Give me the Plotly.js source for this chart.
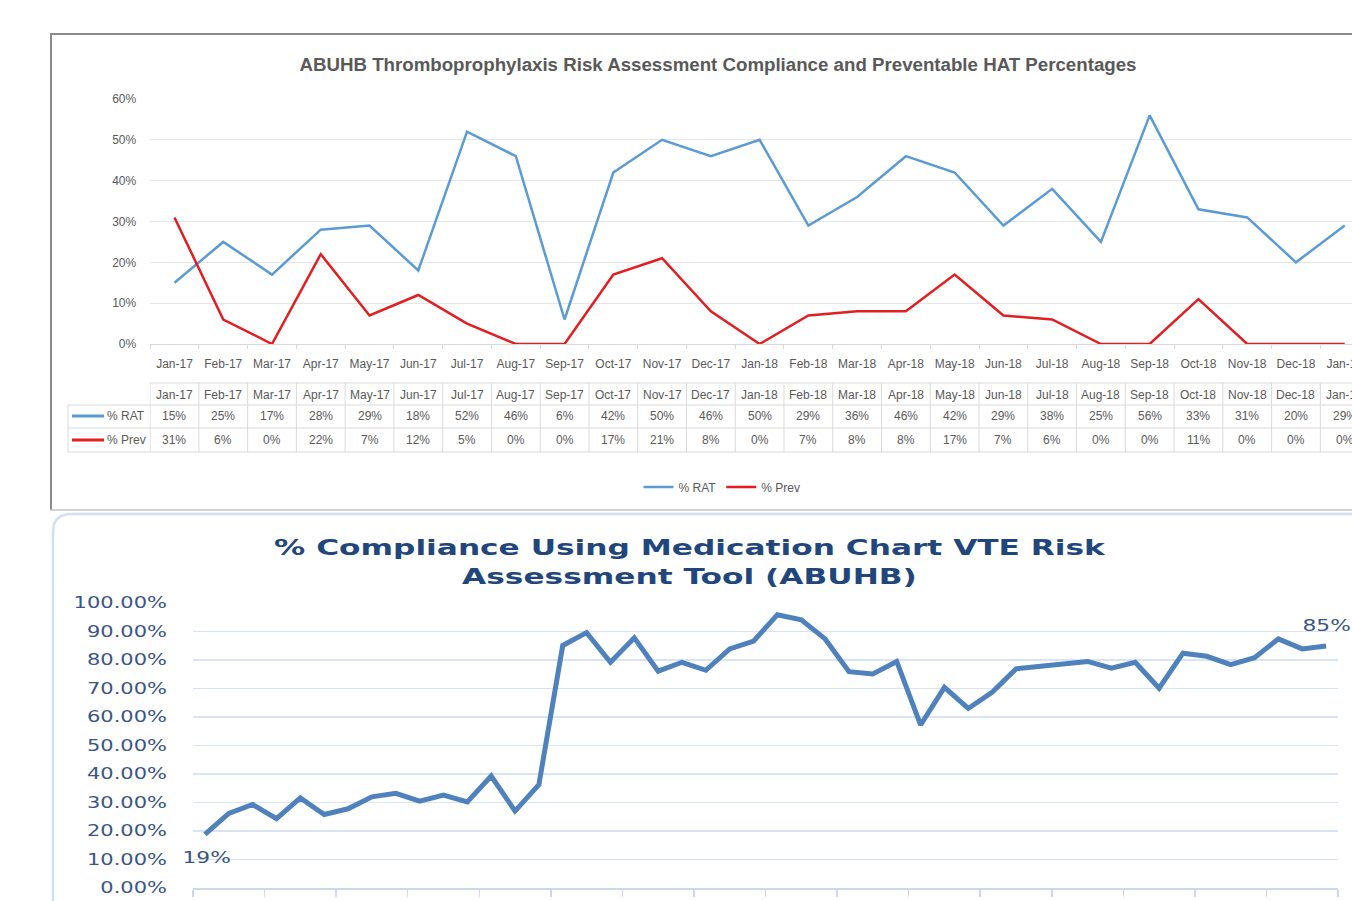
<!DOCTYPE html>
<html><head><meta charset="utf-8">
<script src="https://cdn.plot.ly/plotly-3.0.1.min.js"></script>
<style>html,body{margin:0;padding:0;overflow:hidden;background:#fff;width:1352px;height:901px}#chart{width:1400px;height:901px}</style>
</head><body><div id="chart"></div><script>
// ---- data ----
const months = ['Jan-17','Feb-17','Mar-17','Apr-17','May-17','Jun-17','Jul-17','Aug-17','Sep-17','Oct-17','Nov-17','Dec-17',
  'Jan-18','Feb-18','Mar-18','Apr-18','May-18','Jun-18','Jul-18','Aug-18','Sep-18','Oct-18','Nov-18','Dec-18','Jan-19'];
const ratValues  = [15,25,17,28,29,18,52,46,6,42,50,46,50,29,36,46,42,29,38,25,56,33,31,20,29];
const prevValues = [31,6,0,22,7,12,5,0,0,17,21,8,0,7,8,8,17,7,6,0,0,11,0,0,0];
const seriesNames = ['% RAT','% Prev'];
const topTicks = [0,10,20,30,40,50,60];
const complianceValues = [18.8,26.2,29.3,24.3,31.6,25.8,27.8,32.0,33.2,30.5,32.6,30.2,39.3,27.0,36.3,85.1,
  89.6,79.2,87.8,76.1,79.2,76.4,83.9,86.6,95.9,94.1,87.4,75.9,75.1,79.5,57.2,70.4,
  63.0,68.7,76.9,77.7,78.9,79.5,77.1,79.2,70.1,82.4,81.3,78.4,80.8,87.4,83.9,84.9];
const complianceIndex = complianceValues.map((v,i)=>i);
const bottomTicks = [0,10,20,30,40,50,60,70,80,90,100];

// ---- geometry helpers ----
const W = 1400, H = 901;
const xp = px => px / W;
const yp = py => 1 - py / H;
const ratColor = '#5B9BD5', prevColor = '#E41E20', compColor = '#4F81BD';
const grayText = '#595959', gridGray = '#D9D9D9';
const topFont = '"Liberation Sans", Arial, sans-serif';
const botFont = '"DejaVu Sans", Verdana, sans-serif';
const navy = '#21467C', botText = '#3B5582';

const traces = [
  {x: months, y: ratValues, name: seriesNames[0], type: 'scatter', mode: 'lines',
   line: {color: ratColor, width: 2.5}, xaxis: 'x', yaxis: 'y', hoverinfo: 'skip'},
  {x: months, y: prevValues, name: seriesNames[1], type: 'scatter', mode: 'lines',
   line: {color: prevColor, width: 2.5}, xaxis: 'x', yaxis: 'y', hoverinfo: 'skip'},
  {x: complianceIndex, y: complianceValues, name: 'Compliance', type: 'scatter', mode: 'lines',
   line: {color: compColor, width: 5}, xaxis: 'x2', yaxis: 'y2', showlegend: false, hoverinfo: 'skip'}
];

const shapes = [];
const annotations = [];

// frames
shapes.push({type:'line', xref:'paper', yref:'paper', x0:xp(50), x1:1, y0:yp(34), y1:yp(34), line:{color:'#8A8A8A', width:2}});
shapes.push({type:'line', xref:'paper', yref:'paper', x0:xp(51), x1:xp(51), y0:yp(34), y1:yp(510), line:{color:'#8A8A8A', width:2}});
shapes.push({type:'line', xref:'paper', yref:'paper', x0:xp(50), x1:1, y0:yp(510), y1:yp(510), line:{color:'#C4C4C4', width:1.5}});
shapes.push({type:'path', xref:'paper', yref:'paper',
  path:`M ${xp(53)} ${yp(901)} L ${xp(53)} ${yp(532)} Q ${xp(53)} ${yp(514)} ${xp(72)} ${yp(514)} L 1 ${yp(514)}`,
  line:{color:'#D3E0F2', width:2.5}});

// data table lines
const tblTop = 383, r1 = 405, r2 = 428, r3 = 452;
shapes.push({type:'line', xref:'paper', yref:'paper', x0:xp(149.6), x1:1, y0:yp(tblTop), y1:yp(tblTop), line:{color:gridGray, width:1}});
[r1, r2, r3].forEach(r => shapes.push({type:'line', xref:'paper', yref:'paper', x0:xp(68), x1:1, y0:yp(r), y1:yp(r), line:{color:gridGray, width:1}}));
shapes.push({type:'line', xref:'paper', yref:'paper', x0:xp(68), x1:xp(68), y0:yp(r1), y1:yp(r3), line:{color:gridGray, width:1}});
for (let i = 0; i <= months.length; i++) {
  shapes.push({type:'line', xref:'x', yref:'paper', x0:i-0.5, x1:i-0.5, y0:yp(tblTop), y1:yp(r3), line:{color:gridGray, width:1}});
}
// row keys
const rowY = [416, 440];
[ratColor, prevColor].forEach((c, k) => {
  shapes.push({type:'line', xref:'paper', yref:'paper', x0:xp(72), x1:xp(104), y0:yp(rowY[k]), y1:yp(rowY[k]), line:{color:c, width:3}});
  annotations.push({xref:'paper', yref:'paper', x:xp(105), y:yp(rowY[k]), xanchor:'left', yanchor:'middle', showarrow:false,
    text: seriesNames[k], font:{family:topFont, size:12, color:grayText}});
});
months.forEach((m, i) => {
  annotations.push({xref:'x', yref:'paper', x:m, y:yp(395), showarrow:false, yanchor:'middle', text:m, font:{family:topFont, size:12, color:grayText}});
  annotations.push({xref:'x', yref:'paper', x:m, y:yp(rowY[0]), showarrow:false, yanchor:'middle', text:ratValues[i]+'%', font:{family:topFont, size:12, color:grayText}});
  annotations.push({xref:'x', yref:'paper', x:m, y:yp(rowY[1]), showarrow:false, yanchor:'middle', text:prevValues[i]+'%', font:{family:topFont, size:12, color:grayText}});
});

// bottom title and labels
const wideStart = annotations.length;
annotations.push({xref:'paper', yref:'paper', x:xp(690), y:yp(562), showarrow:false, xanchor:'center', yanchor:'middle',
  text:'<b>% Compliance Using Medication Chart VTE Risk<br>Assessment Tool (ABUHB)</b>', font:{family:botFont, size:22, color:navy}});
const first = complianceValues[0], last = complianceValues[complianceValues.length-1];
annotations.push({xref:'x2', yref:'y2', x:complianceIndex[0], y:first, yshift:-24, xshift:2, showarrow:false,
  text: Math.round(first)+'%', font:{family:botFont, size:15, color:botText}});
annotations.push({xref:'x2', yref:'y2', x:complianceIndex[complianceIndex.length-1], y:last, yshift:20, xshift:0, showarrow:false,
  text: Math.round(last)+'%', font:{family:botFont, size:15, color:botText}});

const layout = {
  width: W, height: H, margin:{l:0, r:0, t:0, b:0}, paper_bgcolor:'#fff', plot_bgcolor:'rgba(0,0,0,0)',
  title:{text:'ABUHB Thromboprophylaxis Risk Assessment Compliance and Preventable HAT Percentages',
    x:xp(718), xanchor:'center', y:yp(64), yanchor:'middle', font:{family:topFont, size:18.7, color:grayText, weight:'bold'}},
  showlegend:true,
  legend:{orientation:'h', x:xp(722), xanchor:'center', y:yp(487), yanchor:'middle', font:{family:topFont, size:12, color:grayText},
    itemwidth:30, bgcolor:'rgba(0,0,0,0)'},
  xaxis:{domain:[xp(149.6), xp(1369.6)], anchor:'y', type:'category', categoryorder:'array', categoryarray:months,
    showgrid:false, showline:true, linecolor:gridGray, linewidth:1, ticks:'outside', tickson:'boundaries', ticklen:4, tickcolor:gridGray,
    ticklabelstandoff:9, tickangle:0, tickfont:{family:topFont, size:12, color:grayText}, zeroline:false, fixedrange:true},
  yaxis:{domain:[yp(344), yp(99)], anchor:'x', range:[0, 60], tickvals:topTicks, ticktext:topTicks.map(v=>v+'%'),
    showgrid:true, gridcolor:'#E6E6E6', gridwidth:1, zeroline:false, showline:false,
    ticks:'outside', ticklen:10, tickcolor:'rgba(0,0,0,0)', tickfont:{family:topFont, size:12, color:grayText}},
  xaxis2:{domain:[xp(193), xp(1338)], anchor:'y2', range:[-0.5, complianceValues.length-0.5], tickmode:'linear', tick0:-0.5, dtick:3,
    showticklabels:false, ticks:'outside', ticklen:7, tickcolor:'#CBD8EC', tickwidth:1.5, showgrid:false,
    showline:true, linecolor:'#CBD8EC', linewidth:1.5, zeroline:false},
  yaxis2:{domain:[yp(888), yp(603)], anchor:'x2', range:[0, 100], tickvals:bottomTicks, ticktext:bottomTicks.map(v=>v.toFixed(2)+'%'),
    showgrid:true, gridcolor:'#D8E3F3', gridwidth:1.5, zeroline:false, showline:false,
    ticks:'outside', ticklen:22, tickcolor:'rgba(0,0,0,0)', tickfont:{family:botFont, size:15, color:botText}},
  shapes: shapes, annotations: annotations
};

// horizontally stretch a text element about its anchor (the original uses a much wider typeface)
function stretch(textEl, s, anchor) {
  const ns = 'http://www.w3.org/2000/svg';
  const g = document.createElementNS(ns, 'g');
  textEl.parentNode.insertBefore(g, textEl);
  g.appendChild(textEl);
  const bb = g.getBBox();
  const ax = anchor === 'end' ? bb.x + bb.width : bb.x + bb.width / 2;
  g.setAttribute('transform', `translate(${ax} 0) scale(${s} 1) translate(${-ax} 0)`);
}
Plotly.newPlot('chart', traces, layout, {staticPlot:true, displayModeBar:false}).then(() => {
  const scales = [1.42, 1.45, 1.45];
  for (let k = 0; k < 3; k++) {
    document.querySelectorAll(`g.annotation[data-index="${wideStart+k}"] text`).forEach(t => stretch(t, scales[k], 'middle'));
  }
  document.querySelectorAll('g.y2tick text').forEach(t => stretch(t, 1.4, 'end'));
});
</script></body></html>
